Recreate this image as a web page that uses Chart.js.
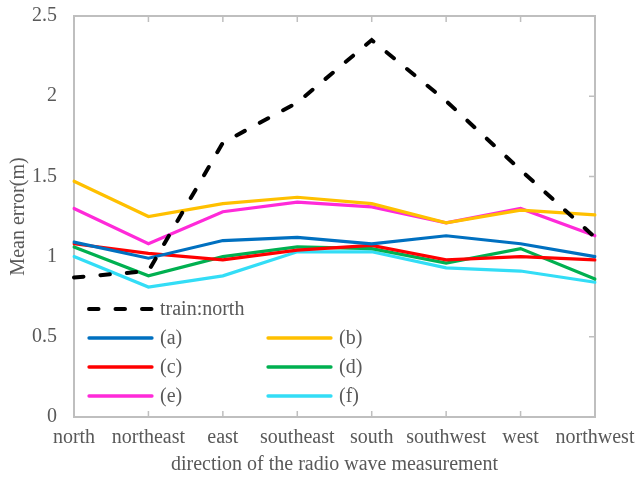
<!DOCTYPE html>
<html>
<head>
<meta charset="utf-8">
<script src="https://cdn.jsdelivr.net/npm/chart.js@4/dist/chart.umd.min.js"></script>
<style>
  html, body { margin: 0; padding: 0; background: #ffffff; }
  #wrap { width: 638px; height: 488px; }
</style>
</head>
<body>
<div id="wrap"><canvas id="c" width="638" height="488"></canvas></div>
<script>
const categories = ['north', 'northeast', 'east', 'southeast', 'south', 'southwest', 'west', 'northwest'];
const yTickLabels = ['0', '0.5', '1', '1.5', '2', '2.5'];

const seriesNames = ['train:north', '(a)', '(b)', '(c)', '(d)', '(e)', '(f)'];
const trainNorth = [0.87, 0.91, 1.71, 1.96, 2.35, 1.97, 1.54, 1.12];
const seriesA = [1.09, 0.99, 1.10, 1.12, 1.08, 1.13, 1.08, 1.00];
const seriesB = [1.47, 1.25, 1.33, 1.37, 1.33, 1.21, 1.29, 1.26];
const seriesC = [1.08, 1.02, 0.98, 1.04, 1.07, 0.98, 1.00, 0.98];
const seriesD = [1.06, 0.88, 1.00, 1.06, 1.05, 0.96, 1.05, 0.86];
const seriesE = [1.30, 1.08, 1.28, 1.34, 1.31, 1.21, 1.30, 1.13];
const seriesF = [1.00, 0.81, 0.88, 1.03, 1.03, 0.93, 0.91, 0.84];

const FONT = "'Liberation Serif', 'Times New Roman', serif";
const TXT = '#595959';
const FRAME = '#BFBFBF';

function ds(label, data, color, extra) {
  return Object.assign({
    label, data,
    borderColor: color, backgroundColor: color,
    borderWidth: 3.2, pointRadius: 0, pointHoverRadius: 0,
    tension: 0, fill: false,
    borderCapStyle: 'round', borderJoinStyle: 'miter'
  }, extra || {});
}

const datasets = [
  ds(seriesNames[0], trainNorth, '#000000', { borderWidth: 4, borderDash: [9.5, 17], borderCapStyle: 'round' }),
  ds(seriesNames[1], seriesA, '#0070C0'),
  ds(seriesNames[2], seriesB, '#FFC000'),
  ds(seriesNames[3], seriesC, '#FF0000'),
  ds(seriesNames[4], seriesD, '#00B050'),
  ds(seriesNames[5], seriesE, '#FF2AD9'),
  ds(seriesNames[6], seriesF, '#33DDF6')
];
const legendSlots = [[0, 0], [0, 1], [1, 1], [0, 2], [1, 2], [0, 3], [1, 3]];

const framePlugin = {
  id: 'frame',
  beforeDatasetsDraw(chart) {
    const { ctx, chartArea: a, scales } = chart;
    ctx.save();
    ctx.strokeStyle = FRAME;
    ctx.lineWidth = 2;
    ctx.strokeRect(a.left, a.top, a.right - a.left, a.bottom - a.top);
    ctx.lineWidth = 1.5;
    ctx.beginPath();
    categories.forEach((c, i) => {
      const x = scales.x.getPixelForValue(i);
      ctx.moveTo(x, a.top); ctx.lineTo(x, a.top + 6);
      ctx.moveTo(x, a.bottom); ctx.lineTo(x, a.bottom - 6);
    });
    yTickLabels.forEach((t) => {
      const y = scales.y.getPixelForValue(parseFloat(t));
      ctx.moveTo(a.right, y); ctx.lineTo(a.right - 6, y);
    });
    ctx.stroke();
    ctx.restore();
  }
};

const legendPlugin = {
  id: 'customLegend',
  afterDraw(chart) {
    const { ctx, chartArea: a } = chart;
    const colX = [a.left + 13, a.left + 192];
    const rowY0 = a.top + 293, rowH = 29;
    const lineLen = 67;
    ctx.save();
    ctx.font = '20px ' + FONT;
    ctx.textBaseline = 'middle';
    ctx.textAlign = 'left';
    chart.data.datasets.forEach((d, i) => {
      const [c, r] = legendSlots[i];
      const x = colX[c], y = rowY0 + r * rowH;
      ctx.strokeStyle = d.borderColor;
      ctx.lineWidth = i === 0 ? 4 : 3.3;
      ctx.lineCap = 'round';
      ctx.setLineDash(i === 0 ? d.borderDash : []);
      ctx.beginPath();
      ctx.moveTo(x + 2, y); ctx.lineTo(x + lineLen - 2, y);
      ctx.stroke();
      ctx.setLineDash([]);
      ctx.fillStyle = TXT;
      ctx.fillText(d.label, x + lineLen + 6, y + 1);
    });
    ctx.restore();
  }
};

new Chart(document.getElementById('c'), {
  type: 'line',
  data: { labels: categories, datasets },
  options: {
    responsive: false,
    animation: false,
    devicePixelRatio: 1,
    layout: { padding: { top: 16, right: 43, left: 0, bottom: 0 } },
    plugins: { legend: { display: false }, tooltip: { enabled: false } },
    scales: {
      x: {
        type: 'category',
        offset: false,
        grid: { display: false, drawTicks: false },
        border: { display: false },
        ticks: { color: TXT, font: { family: FONT, size: 20 }, padding: 9, maxRotation: 0, autoSkip: false },
        title: { display: true, text: 'direction of the radio wave measurement', color: TXT, font: { family: FONT, size: 20 }, padding: { top: 0, bottom: 11 } },
        afterFit(s) { s.height = 71; s.paddingLeft = 0; s.paddingRight = 0; }
      },
      y: {
        min: 0, max: 2.5,
        grid: { display: false, drawTicks: false },
        border: { display: false },
        ticks: {
          stepSize: 0.5, color: TXT, font: { family: FONT, size: 20 }, padding: 17,
          callback(v, i) { return yTickLabels[i]; }
        },
        title: { display: true, text: 'Mean error(m)', color: TXT, font: { family: FONT, size: 20 }, padding: { top: 7, bottom: 0 } },
        afterFit(s) { s.width = 74; s.paddingTop = 0; s.paddingBottom = 0; }
      }
    }
  },
  plugins: [framePlugin, legendPlugin]
});
</script>
</body>
</html>
